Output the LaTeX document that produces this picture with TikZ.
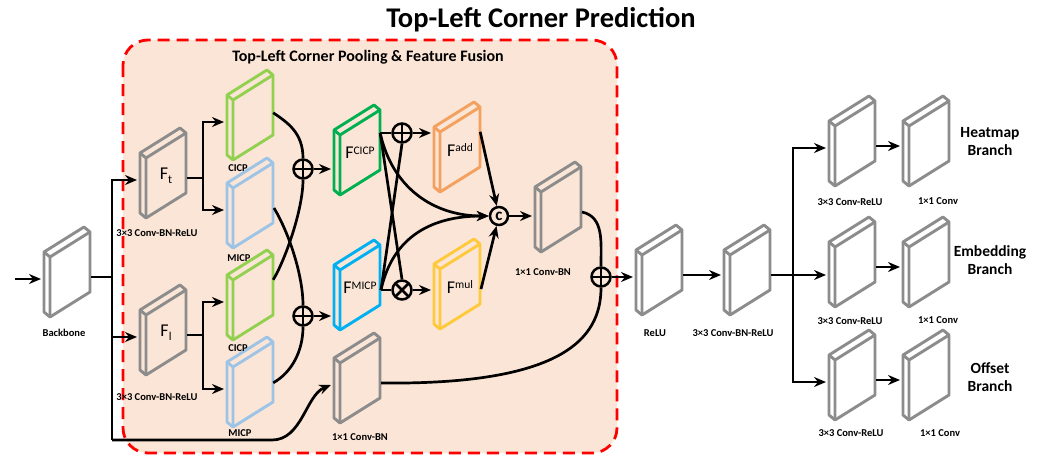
\documentclass[tikz,border=0pt]{standalone}
\usepackage{fontspec}
\setmainfont{Carlito}
\usetikzlibrary{arrows.meta,positioning,calc}
\definecolor{fmgrey}{HTML}{8C8C8C}
\definecolor{fmlgreen}{HTML}{92D050}
\definecolor{fmlblue}{HTML}{9DC3E6}
\definecolor{fmgreen}{HTML}{00B050}
\definecolor{fmblue}{HTML}{00B0F0}
\definecolor{fmorange}{HTML}{F4A05E}
\definecolor{fmyellow}{HTML}{FFC93C}
\definecolor{fmpeach}{HTML}{FBE5D6}
\definecolor{fmred}{HTML}{FF0000}
\newcommand{\fmsub}[1]{{\fontsize{18}{18}\selectfont F}{\fontsize{12}{12}\selectfont\raisebox{-4pt}{#1}}}
\newcommand{\fmsup}[1]{{\fontsize{18}{18}\selectfont F}{\fontsize{11.5}{11.5}\selectfont\raisebox{4.5pt}{#1}}}
\tikzset{
  pics/fmap/.style n args={2}{code={
    \draw[#1,line width=2.9pt,line join=round] (-6,-5) -- (34,-30) -- (40,-25) -- (40,35) -- (0,60) -- (-6,55) -- cycle;
    \draw[#1,line width=2.9pt,line join=round] (-6,-5) -- (0,0) -- (40,-25) (0,0) -- (0,60);
    \node[inner sep=0pt,minimum width=40pt,minimum height=36pt] (-f) at (20,18) {#2};
    \coordinate (-i) at (-9,22);
    \coordinate (-o) at (41,20);
  }},
  fusebox/.style={draw=fmred,fill=fmpeach,line width=2.8pt,dash pattern=on 12pt off 7pt,rounded corners=25pt},
  ttl/.style={font=\bfseries\fontsize{28.5}{32}\selectfont},
  subttl/.style={font=\bfseries\fontsize{16}{19}\selectfont},
  lab/.style={font=\bfseries\fontsize{10.5}{12}\selectfont,inner sep=1pt},
  brlab/.style={font=\bfseries\fontsize{15.5}{18}\selectfont,align=center},
  ar/.style={-{Stealth[length=12pt,width=10pt,inset=4pt]},line width=2.7pt},
  ln/.style={line width=2.7pt},
  opbase/.style={circle,draw,line width=2.5pt,minimum size=19pt,inner sep=0pt},
  opplus/.style={opbase,path picture={\draw[line width=2.5pt]
      (path picture bounding box.north) -- (path picture bounding box.south)
      (path picture bounding box.west) -- (path picture bounding box.east);}},
  optimes/.style={opbase,path picture={\draw[line width=2.5pt]
      (path picture bounding box.north west) -- (path picture bounding box.south east)
      (path picture bounding box.north east) -- (path picture bounding box.south west);}},
  opcat/.style={opbase,minimum size=18pt,font=\bfseries\fontsize{17}{17}\selectfont},
}
\begin{document}
\begin{tikzpicture}[x=1pt,y=-1pt]
  \useasboundingbox (0,0) rectangle (1037,456);
  \draw[fusebox] (123,40) rectangle (617,453);
  \node[ttl] (title) at (541,20) {Top-Left Corner Prediction};
  \node[subttl] (fusettl) at (368,57) {Top-Left Corner Pooling \& Feature Fusion};

  \pic (bb) at (50,257) {fmap={fmgrey}{}};
  \pic (ft) at (146,158) {fmap={fmgrey}{\fmsub{t}}};
  \pic (fl) at (146,315) {fmap={fmgrey}{\fmsub{l}}};
  \pic (cicpt) at (233,100) {fmap={fmlgreen}{}};
  \pic (micpt) at (233,188) {fmap={fmlblue}{}};
  \pic (cicpb) at (233,280) {fmap={fmlgreen}{}};
  \pic (micpb) at (233,367) {fmap={fmlblue}{}};
  \pic (fc) at (340,135) {fmap={fmgreen}{\fmsup{CICP}}};
  \pic (fm) at (340,270) {fmap={fmblue}{\fmsup{MICP}}};
  \pic (fa) at (440,132) {fmap={fmorange}{\fmsup{add}}};
  \pic (fu) at (440,269) {fmap={fmyellow}{\fmsup{mul}}};
  \pic (cv1) at (541,192) {fmap={fmgrey}{}};
  \pic (cv2) at (340,363) {fmap={fmgrey}{}};
  \pic (relu) at (642,255) {fmap={fmgrey}{}};
  \pic (c33) at (730,255) {fmap={fmgrey}{}};
  \pic (hm1) at (835,126) {fmap={fmgrey}{}};
  \pic (hm2) at (909,126) {fmap={fmgrey}{}};
  \pic (em1) at (835,247) {fmap={fmgrey}{}};
  \pic (em2) at (909,247) {fmap={fmgrey}{}};
  \pic (of1) at (835,360) {fmap={fmgrey}{}};
  \pic (of2) at (909,360) {fmap={fmgrey}{}};

  \node[lab] (bblab) at (64,333) {Backbone};
  \node[lab] (ftlab) at (157,233) {3×3 Conv-BN-ReLU};
  \node[lab] (fllab) at (157,397) {3×3 Conv-BN-ReLU};
  \node[lab] (cicptlab) at (238,168) {CICP};
  \node[lab] (micptlab) at (239,258) {MICP};
  \node[lab] (cicpblab) at (238,348) {CICP};
  \node[lab] (micpblab) at (240,433) {MICP};
  \node[lab] (cv2lab) at (360,437) {1×1 Conv-BN};
  \node[lab] (cv1lab) at (543,272) {1×1 Conv-BN};
  \node[lab] (relulab) at (655,333) {ReLU};
  \node[lab] (c33lab) at (733,333) {3×3 Conv-BN-ReLU};
  \node[lab] (hm1lab) at (850,202) {3×3 Conv-ReLU};
  \node[lab] (hm2lab) at (938,201) {1×1 Conv};
  \node[lab] (em1lab) at (850,321) {3×3 Conv-ReLU};
  \node[lab] (em2lab) at (938,320) {1×1 Conv};
  \node[lab] (of1lab) at (851,433) {3×3 Conv-ReLU};
  \node[lab] (of2lab) at (940,433) {1×1 Conv};
  \node[brlab] (hmlab) at (990,142) {Heatmap\\Branch};
  \node[brlab] (emlab) at (990,260) {Embedding\\Branch};
  \node[brlab] (oflab) at (990,377) {Offset\\Branch};

  \node[opplus] (p1) at (303,169) {};
  \node[opplus] (p2) at (303,316) {};
  \node[opplus] (p3) at (402,133) {};
  \node[optimes] (px) at (402,290) {};
  \node[opcat] (pc) at (499,216) {c};
  \node[opplus] (p4) at (601,277) {};

  \coordinate (inp) at (15,279);
  \coordinate (trk) at (112,440);
  \coordinate (btrk) at (793,277);

  \draw[ar] (inp) -- (bb-i);
  \draw[ln] (bb-o) -- (bb-o -| trk);
  \draw[ar] (trk) |- (ft-i);
  \draw[ar] (trk |- fl-i) -- (fl-i);
  \draw[ar] (trk) -- ++(160,0) .. controls +(30,0) and +(-25,10) .. (cv2-i);
  \draw[ln] (ft-o) -- ++(16,0) coordinate (fts);
  \draw[ar] (fts) |- (cicpt-i);
  \draw[ar] (fts) |- (micpt-i);
  \draw[ln] (fl-o) -- ++(16,0) coordinate (fls);
  \draw[ar] (fls) |- (cicpb-i);
  \draw[ar] (fls) |- (micpb-i);
  \draw[ln] ($(cicpt-f.north east)+(0,13)$) .. controls +(15,10) and +(0,-25) .. (p1.north);
  \draw[ln] (cicpb-f.north east) .. controls +(12,-20) and +(0,30) .. (p1.south);
  \draw[ln] (micpt-o) .. controls +(15,25) and +(0,-30) .. (p2.north);
  \draw[ln] ($(micpb-f.north east)+(0,16)$) .. controls +(18,-10) and +(0,25) .. (p2.south);
  \draw[ar] (p1) -- (p1 -| fc-i);
  \draw[ar] (p2) -- (p2 -| fm-i);
  \draw[ln] (fc-f.north east |- p3) -- (p3);
  \draw[ar] (p3) -- (p3 -| fa-i);
  \draw[ln] (fm-o |- px) -- (px);
  \draw[ar] (px) -- (px -| fu-i);
  \draw[ln] (fc-f.north east |- p3) -- (px.north);
  \draw[ln] (fm-o |- px) -- (p3.south);
  \draw[ar] (fc-f.north east |- p3) .. controls +(12,55) and +(-55,0) .. (pc.west);
  \draw[ar] (fm-o |- px) .. controls +(12,-55) and +(-55,0) .. (pc.west);
  \draw[ar] (fa-f.north east) -- (pc);
  \draw[ar] (fu-o) -- (pc);
  \draw[ar] (pc) -- (pc -| cv1-i);
  \draw[ln] (cv1-o) .. controls +(22,5) and +(0,-25) .. (p4.north);
  \draw[ln] (cv2-o) .. controls (560,385) and (601,340) .. (p4.south);
  \draw[ar] (p4) -- (p4 -| relu-i);
  \draw[ar] (relu-o) -- (relu-o -| c33-i);
  \draw[ar] (c33-o) -- (c33-o -| em1-i);
  \draw[ar] (btrk) |- (hm1-i);
  \draw[ar] (btrk) |- (of1-i);
  \draw[ar] (hm1-o) -- (hm1-o -| hm2-i);
  \draw[ar] (em1-o) -- (em1-o -| em2-i);
  \draw[ar] (of1-o) -- (of1-o -| of2-i);
\end{tikzpicture}
\end{document}
